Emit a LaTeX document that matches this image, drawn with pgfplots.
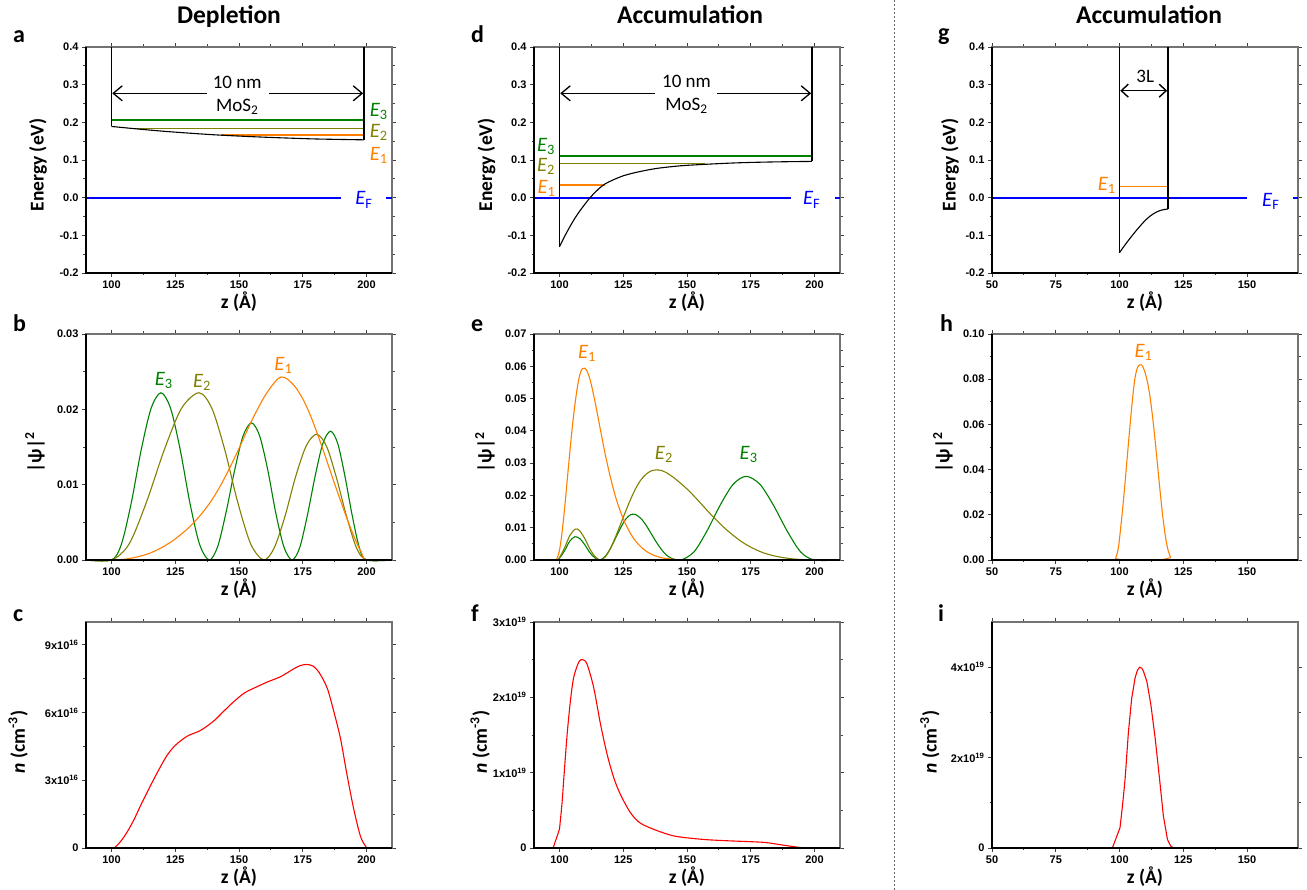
\documentclass[border=0pt]{standalone}
\usepackage{fontspec}
\setmainfont{Carlito}
\newfontfamily\liberation{Liberation Sans}
\usepackage{pgfplots}
\pgfplotsset{compat=1.18}
\usetikzlibrary{arrows.meta}
\definecolor{cEa}{RGB}{255,128,0}
\definecolor{cEb}{RGB}{128,128,0}
\definecolor{cEc}{RGB}{0,128,0}
\definecolor{fermiblue}{RGB}{0,0,255}
\definecolor{cN}{RGB}{255,0,0}
\newcommand\tickfont{\fontsize{11}{13}\selectfont\liberation\bfseries}
\newcommand\labfont{\fontsize{19.5}{22}\selectfont\bfseries}
\newcommand\annfont{\fontsize{19}{22}\selectfont}
\newcommand\efont{\fontsize{20.5}{22}\selectfont}
\newcommand\titfont{\fontsize{25.5}{28}\selectfont\bfseries}
\newcommand\letfont{\fontsize{24}{26}\selectfont\bfseries}
\newcommand\Elab[1]{\textit{E}\textsubscript{#1}}
\pgfplotsset{
  panel/.style={
    scale only axis, width=306pt, height=226pt, anchor=north west,
    clip=false,
    scaled x ticks=false, scaled y ticks=false,
    axis line style={black!55, line width=1.1pt},
    tick align=outside,
    tick style={black!75, line width=0.8pt},
    major tick length=4pt, minor tick length=2.5pt,
    minor x tick num=1, minor y tick num=1,
    tick label style={font=\tickfont},
    xlabel={z (Å)},
    xlabel style={font=\labfont, at={(axis description cs:0.5,-0.125)}, anchor=center},
    ylabel style={font=\labfont, anchor=center},
    after end axis/.code={\draw[black, line width=1.1pt] (rel axis cs:0,1) -- (rel axis cs:0,0) -- (rel axis cs:1,0);},
    every axis plot/.append style={line width=1.1pt},
  },
  zA/.style={xmin=90,xmax=210,xtick={100,125,150,175,200},xticklabels={100,125,150,175,200}},
  zB/.style={xmin=50,xmax=170,xtick={50,75,100,125,150},xticklabels={50,75,100,125,150}},
  energy/.style={ymin=-0.2,ymax=0.4,ytick={-0.2,-0.1,0,0.1,0.2,0.3,0.4},
    yticklabels={-0.2,-0.1,0.0,0.1,0.2,0.3,0.4}, ylabel={Energy (eV)}},
  elevel/.style={line width=1.6pt},
  fermi/.style={draw=fermiblue, line width=2pt},
}
\begin{document}
\begin{tikzpicture}[x=1pt,y=1pt]
\path[use as bounding box] (0pt,0pt) rectangle (1307pt,890pt);
\draw[black!60, line width=0.9pt, dash pattern=on 2pt off 2pt] (894pt,0pt) -- (894pt,890pt);
\node[font=\titfont, anchor=base] at (229pt,866pt) {Depletion};
\node[font=\titfont, anchor=base] at (690pt,866pt) {Accumulation};
\node[font=\titfont, anchor=base] at (1149pt,866pt) {Accumulation};
\node[font=\letfont, anchor=base west, inner sep=0] at (13pt,847pt) {a};
\node[font=\letfont, anchor=base west, inner sep=0] at (471pt,847pt) {d};
\node[font=\letfont, anchor=base west, inner sep=0] at (938pt,849pt) {g};
\node[font=\letfont, anchor=base west, inner sep=0] at (13pt,558pt) {b};
\node[font=\letfont, anchor=base west, inner sep=0] at (471pt,558pt) {e};
\node[font=\letfont, anchor=base west, inner sep=0] at (940pt,558pt) {h};
\node[font=\letfont, anchor=base west, inner sep=0] at (13pt,268pt) {c};
\node[font=\letfont, anchor=base west, inner sep=0] at (471pt,268pt) {f};
\node[font=\letfont, anchor=base west, inner sep=0] at (938pt,268pt) {i};

%%%%%%%%%%%%%%%% a
\begin{axis}[panel, zA, energy, at={(86pt,843pt)},
  ylabel style={at={(axis description cs:-0.157,0.478)}}]
\addplot[fermi] coordinates {(90,0) (190,0)};
\addplot[fermi] coordinates {(207.8,0) (210,0)};
\addplot[draw=cEc, elevel] coordinates {(100,0.2066) (199,0.2066)};
\addplot[draw=cEb, elevel] coordinates {(108.5,0.184) (199,0.184)};
\addplot[draw=cEa, elevel] coordinates {(143,0.1666) (199,0.1666)};
\addplot[black] coordinates {(100,0.4) (100,0.189)};
\addplot[black, smooth] coordinates {(100,0.189) (110,0.1825) (120,0.1765) (130,0.1715) (140,0.167) (150,0.1635) (160,0.1605) (170,0.158) (180,0.1558) (190,0.1545) (199,0.1535)};
\addplot[black] coordinates {(199,0.1535) (199,0.4)};
\draw[black, line width=1.3pt, -{Straight Barb[length=9pt,width=15pt]}] (axis cs:137.5,0.277) -- (axis cs:100.3,0.277);
\draw[black, line width=1.3pt, -{Straight Barb[length=9pt,width=15pt]}] (axis cs:161.7,0.277) -- (axis cs:198.7,0.277);
\node[font=\annfont] at (axis cs:149.3,0.307) {10 nm};
\node[font=\annfont] at (axis cs:149.3,0.241) {MoS\textsubscript{2}};
\node[font=\efont, text=cEc, inner sep=0] at (axis cs:204.8,0.229) {\Elab{3}};
\node[font=\efont, text=cEb, inner sep=0] at (axis cs:204.8,0.172) {\Elab{2}};
\node[font=\efont, text=cEa, inner sep=0] at (axis cs:204.8,0.113) {\Elab{1}};
\node[font=\efont, text=fermiblue, inner sep=0] at (axis cs:199,-0.006) {\Elab{F}};
\end{axis}

%%%%%%%%%%%%%%%% d
\begin{axis}[panel, zA, energy, at={(534pt,843pt)},
  ylabel style={at={(axis description cs:-0.155,0.478)}}]
\addplot[fermi] coordinates {(90,0) (190.6,0)};
\addplot[fermi] coordinates {(208.2,0) (210,0)};
\addplot[draw=cEc, elevel] coordinates {(100,0.111) (199,0.111)};
\addplot[draw=cEb, elevel] coordinates {(100,0.0905) (157,0.0905)};
\addplot[draw=cEa, elevel] coordinates {(100,0.034) (118,0.034)};
\addplot[black] coordinates {(100,0.4) (100,-0.130)};
\addplot[black, smooth] coordinates {(100,-0.130) (102,-0.103) (104,-0.078) (106,-0.055) (108,-0.035) (110,-0.017) (112,0.000) (114,0.0145) (116,0.027) (118,0.037) (121,0.047) (125,0.058) (130,0.067) (137.5,0.077) (145,0.083) (150,0.0858) (160,0.0895) (170,0.0925) (180,0.0943) (190,0.0955) (199,0.0962)};
\addplot[black] coordinates {(199,0.0962) (199,0.4)};
\draw[black, line width=1.3pt, -{Straight Barb[length=9pt,width=15pt]}] (axis cs:137.6,0.277) -- (axis cs:100.3,0.277);
\draw[black, line width=1.3pt, -{Straight Barb[length=9pt,width=15pt]}] (axis cs:161.8,0.277) -- (axis cs:198.7,0.277);
\node[font=\annfont] at (axis cs:149.8,0.309) {10 nm};
\node[font=\annfont] at (axis cs:149.8,0.244) {MoS\textsubscript{2}};
\node[font=\efont, text=cEc, inner sep=0] at (axis cs:94.7,0.136) {\Elab{3}};
\node[font=\efont, text=cEb, inner sep=0] at (axis cs:94.7,0.0825) {\Elab{2}};
\node[font=\efont, text=cEa, inner sep=0] at (axis cs:94.9,0.025) {\Elab{1}};
\node[font=\efont, text=fermiblue, inner sep=0] at (axis cs:198.9,-0.006) {\Elab{F}};
\end{axis}

%%%%%%%%%%%%%%%% g
\begin{axis}[panel, zB, energy, at={(992pt,843pt)},
  ylabel style={at={(axis description cs:-0.137,0.478)}}]
\addplot[fermi] coordinates {(50,0) (150.1,0)};
\addplot[fermi] coordinates {(168.2,0) (170,0)};
\addplot[draw=cEa, elevel] coordinates {(100,0.0295) (119,0.0295)};
\addplot[black] coordinates {(100,0.4) (100,-0.146)};
\addplot[black, smooth] coordinates {(100,-0.146) (102,-0.127) (104,-0.109) (106,-0.092) (108,-0.076) (110,-0.061) (112,-0.049) (114,-0.040) (116,-0.034) (118,-0.031) (119,-0.030)};
\addplot[black] coordinates {(119,-0.030) (119,0.4)};
\draw[black, line width=1.4pt, {Straight Barb[length=7pt,width=13pt]}-{Straight Barb[length=7pt,width=13pt]}] (axis cs:100.3,0.284) -- (axis cs:118.7,0.284);
\node[font=\annfont] at (axis cs:110.1,0.321) {3L};
\node[font=\efont, text=cEa, inner sep=0] at (axis cs:95.0,0.032) {\Elab{1}};
\node[font=\efont, text=fermiblue, inner sep=0] at (axis cs:159.3,-0.010) {\Elab{F}};
\end{axis}

%%%%%%%%%%%%%%%% b
\begin{axis}[panel, zA, at={(86pt,556pt)}, ymin=0, ymax=0.03, ytick={0,0.01,0.02,0.03},
  yticklabels={0.00,0.01,0.02,0.03}, ylabel={|ψ|\textsuperscript{2}},
  ylabel style={at={(axis description cs:-0.167,0.477)}}]
\addplot[cEc, smooth] coordinates {(90,0) (100,0) (103.9,0.00212) (107.8,0.00766) (111.6,0.01454) (115.5,0.0201) (119.4,0.0222) (123.2,0.0201) (127.0,0.01454) (130.7,0.00766) (134.5,0.00212) (138.3,0) (141.6,0.00174) (144.9,0.00628) (148.3,0.01192) (151.6,0.01647) (154.9,0.0182) (158.1,0.01647) (161.3,0.01192) (164.4,0.00628) (167.6,0.00174) (170.8,0) (173.8,0.00163) (176.8,0.0059) (179.9,0.0112) (182.9,0.01548) (185.9,0.0171) (188.7,0.01548) (191.5,0.0112) (194.4,0.0059) (197.2,0.00163) (200,0) (210,0)};
\addplot[cEb, smooth] coordinates {(90,0) (100,0) (106.9,0.00212) (113.7,0.00767) (120.6,0.01453) (127.4,0.0201) (134.3,0.0222) (139.4,0.0201) (144.5,0.01453) (149.5,0.00767) (154.6,0.00212) (159.7,0) (163.8,0.0016) (168.0,0.00576) (172.1,0.01094) (176.3,0.01511) (180.4,0.0167) (184.3,0.01511) (188.2,0.01094) (192.2,0.00576) (196.1,0.0016) (200,0) (210,0)};
\addplot[cEa, smooth] coordinates {(90,0) (100,0) (105,0.0001) (110,0.0004) (115,0.0009) (120,0.0017) (125,0.0028) (130,0.0042) (135,0.0060) (140,0.0083) (145,0.0113) (150,0.0148) (155,0.0185) (160,0.0217) (164,0.0236) (166.5,0.0243) (169,0.0240) (172,0.0230) (175,0.0214) (178,0.0192) (181,0.0165) (184,0.0136) (187,0.0106) (190,0.0077) (193,0.0049) (196,0.0024) (198,0.0010) (200,0) (210,0)};
\node[font=\efont, text=cEc, inner sep=0] at (axis cs:120.5,0.0238) {\Elab{3}};
\node[font=\efont, text=cEb, inner sep=0] at (axis cs:135.5,0.0236) {\Elab{2}};
\node[font=\efont, text=cEa, inner sep=0] at (axis cs:167.4,0.0258) {\Elab{1}};
\end{axis}

%%%%%%%%%%%%%%%% e
\begin{axis}[panel, zA, at={(534pt,556pt)}, ymin=0, ymax=0.07, ytick={0,0.01,0.02,0.03,0.04,0.05,0.06,0.07},
  yticklabels={0.00,0.01,0.02,0.03,0.04,0.05,0.06,0.07}, ylabel={|ψ|\textsuperscript{2}},
  ylabel style={at={(axis description cs:-0.16,0.477)}}]
\addplot[cEc, smooth] coordinates {(90,0) (98.5,0) (100,0.0006) (102,0.0029) (104,0.0058) (106,0.0072) (108,0.0066) (110,0.0046) (112,0.0022) (114,0.0006) (116,0) (118,0.0012) (120,0.0036) (122,0.0068) (124,0.0100) (126,0.0127) (128,0.0141) (129,0.0142) (130,0.0140) (132,0.0128) (134,0.0107) (136,0.0081) (138,0.0055) (140,0.0032) (142,0.0015) (144,0.0005) (147.6,0) (152.7,0.00247) (157.8,0.00894) (163.0,0.01696) (168.1,0.02344) (173.2,0.0259) (178.6,0.02344) (183.9,0.01696) (189.3,0.00894) (194.6,0.00247) (200,0) (210,0)};
\addplot[cEb, smooth] coordinates {(90,0) (98.5,0) (100,0.0008) (102,0.0038) (104,0.0075) (106,0.0095) (107,0.0096) (108,0.0090) (110,0.0065) (112,0.0033) (114,0.0010) (116,0) (118,0.0010) (120,0.0036) (122,0.0072) (124,0.0112) (126,0.0152) (128,0.0190) (130,0.0223) (132,0.0249) (134,0.0266) (136,0.0276) (138,0.0279) (140,0.0277) (142,0.0270) (145,0.0254) (148,0.0234) (150,0.0220) (153,0.0196) (156,0.0170) (159,0.0144) (162,0.0120) (165,0.0097) (168,0.0077) (171,0.0059) (174,0.0044) (177,0.0032) (180,0.0022) (184,0.0013) (188,0.0007) (192,0.0003) (196,0.0001) (200,0) (210,0)};
\addplot[cEa, smooth] coordinates {(90,0) (98,0) (99,0.0005) (100,0.0030) (101,0.0085) (102,0.0160) (103,0.0245) (104,0.0330) (105,0.0410) (106,0.0478) (107,0.0535) (108,0.0575) (109,0.0593) (110,0.0594) (111,0.0582) (112,0.0558) (113,0.0525) (114,0.0487) (115,0.0447) (116,0.0405) (118,0.0325) (120,0.0255) (122,0.0195) (124,0.0148) (126,0.0110) (128,0.0080) (130,0.0057) (133,0.0033) (136,0.0018) (140,0.0007) (145,0.0002) (150,0) (210,0)};
\node[font=\efont, text=cEa, inner sep=0] at (axis cs:110.8,0.0639) {\Elab{1}};
\node[font=\efont, text=cEb, inner sep=0] at (axis cs:140.9,0.0326) {\Elab{2}};
\node[font=\efont, text=cEc, inner sep=0] at (axis cs:174.2,0.0326) {\Elab{3}};
\end{axis}

%%%%%%%%%%%%%%%% h
\begin{axis}[panel, zB, at={(992pt,556pt)}, ymin=0, ymax=0.10, ytick={0,0.02,0.04,0.06,0.08,0.10},
  yticklabels={0.00,0.02,0.04,0.06,0.08,0.10}, ylabel={|ψ|\textsuperscript{2}},
  ylabel style={at={(axis description cs:-0.16,0.477)}}]
\addplot[cEa, smooth] coordinates {(50,0) (97.5,0) (98.5,0.0008) (99.5,0.0050) (100,0.0095) (101,0.0200) (102,0.0320) (103,0.0450) (104,0.0580) (105,0.0700) (106,0.0800) (107,0.0850) (108,0.0864) (109,0.0858) (110,0.0830) (111,0.0785) (112,0.0720) (113,0.0630) (114,0.0525) (115,0.0410) (116,0.0295) (117,0.0190) (118,0.0105) (119,0.0045) (120,0.0012) (120.6,0) (170,0)};
\node[font=\efont, text=cEa, inner sep=0] at (axis cs:109.4,0.092) {\Elab{1}};
\end{axis}

%%%%%%%%%%%%%%%% c
\begin{axis}[panel, zA, at={(86pt,268pt)}, ymin=0, ymax=10, ytick={0,3,6,9},
  yticklabels={0,3x10\textsuperscript{16},6x10\textsuperscript{16},9x10\textsuperscript{16}},
  ylabel={\textit{n} (cm\textsuperscript{-3})},
  ylabel style={at={(axis description cs:-0.222,0.47)}}]
\addplot[cN, smooth] coordinates {(90,0) (100,0) (102,0.1) (104,0.35) (106.1,0.70) (108.8,1.25) (111.5,1.9) (115.3,2.76) (118.5,3.45) (121.8,4.10) (125.1,4.55) (129.7,4.95) (134.9,5.20) (140.1,5.62) (144,6.05) (148.0,6.48) (152,6.85) (155.8,7.07) (161.0,7.34) (166.3,7.58) (171.5,7.93) (174,8.07) (176.5,8.12) (179,8.05) (181.5,7.75) (184.6,7.07) (187.2,6.03) (189.8,4.84) (192.4,3.21) (195.0,1.72) (197.6,0.53) (199.6,0.09) (201,0) (210,0)};
\end{axis}

%%%%%%%%%%%%%%%% f
\begin{axis}[panel, zA, at={(534pt,268pt)}, ymin=0, ymax=3, ytick={0,1,2,3},
  yticklabels={0,1x10\textsuperscript{19},2x10\textsuperscript{19},3x10\textsuperscript{19}},
  ylabel={\textit{n} (cm\textsuperscript{-3})},
  ylabel style={at={(axis description cs:-0.176,0.47)}}]
\addplot[cN] coordinates {(90,0) (97.5,0) (100,0.25)};
\addplot[cN, smooth] coordinates {(100,0.25) (101,0.6) (101.7,0.93) (103,1.51) (104.3,1.96) (105.6,2.27) (107.6,2.47) (109.1,2.50) (110.8,2.44) (113.4,2.13) (116.1,1.64) (118.7,1.24) (121.3,0.93) (123.9,0.71) (127.8,0.47) (131.7,0.33) (138.3,0.23) (144.8,0.16) (151.3,0.13) (157.8,0.11) (164.4,0.098) (170.9,0.089) (177.4,0.08) (181.3,0.071) (186.6,0.044) (191.8,0.018) (197,0) (210,0)};
\end{axis}

%%%%%%%%%%%%%%%% i
\begin{axis}[panel, zB, at={(992pt,268pt)}, ymin=0, ymax=5, ytick={0,2,4},
  yticklabels={0,2x10\textsuperscript{19},4x10\textsuperscript{19}},
  ylabel={\textit{n} (cm\textsuperscript{-3})},
  ylabel style={at={(axis description cs:-0.203,0.47)}}]
\addplot[cN] coordinates {(50,0) (97.2,0) (100.2,0.45) (101.2,0.95) (102.2,1.53) (103.5,2.57) (104.8,3.32) (106.1,3.76) (107,3.93) (107.9,4.0) (108.7,3.98) (109.4,3.91) (110.7,3.69) (112.3,3.17) (114.0,2.42) (115.7,1.53) (117.2,0.71) (118.8,0.19) (120.1,0.04) (121.2,0) (170,0)};
\end{axis}
\end{tikzpicture}
\end{document}
